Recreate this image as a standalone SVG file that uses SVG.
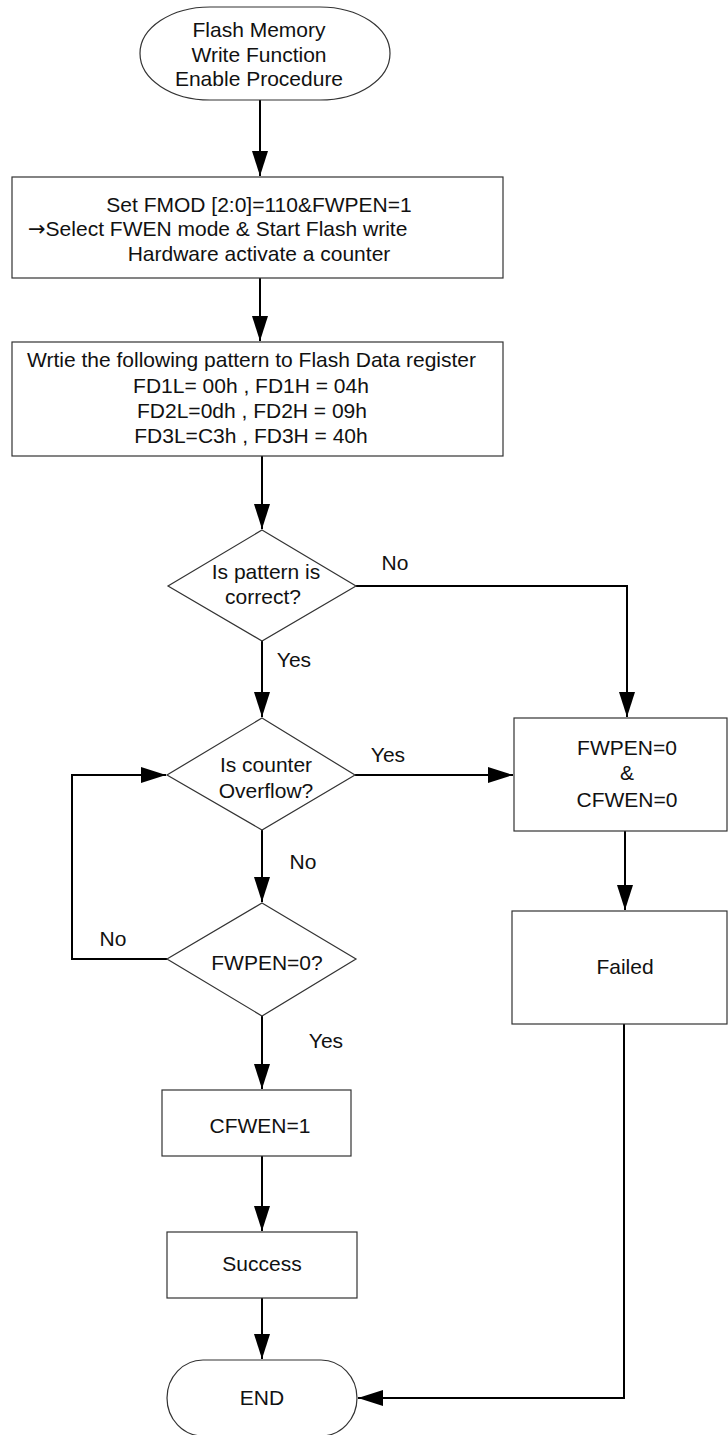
<svg xmlns="http://www.w3.org/2000/svg" width="728" height="1435" viewBox="0 0 728 1435">
<style>
.n{fill:#fff;stroke:#333;stroke-width:1.2}
.t{font-family:"Liberation Sans",Arial,sans-serif;font-size:21px;fill:#111;text-anchor:middle}
.s{text-anchor:start}
.c{fill:none;stroke:#000;stroke-width:2}
.ar{font-family:"DejaVu Sans",sans-serif}
</style>
<defs>
<marker id="ah" markerUnits="userSpaceOnUse" markerWidth="26" markerHeight="18" refX="25" refY="8" orient="auto">
<path d="M0,0 L25,8 L0,16 z" fill="#000"/>
</marker>
</defs>
<rect width="728" height="1435" fill="#fff"/>
<g id="connectors">
<path class="c" d="M260,100 V176" marker-end="url(#ah)"/>
<path class="c" d="M260,278 V341" marker-end="url(#ah)"/>
<path class="c" d="M262,456 V529" marker-end="url(#ah)"/>
<path class="c" d="M356,586 H627 V717" marker-end="url(#ah)"/>
<path class="c" d="M262,641 V717" marker-end="url(#ah)"/>
<path class="c" d="M355,775 H513" marker-end="url(#ah)"/>
<path class="c" d="M262,830 V902" marker-end="url(#ah)"/>
<path class="c" d="M167,959 H72 V775 H166" marker-end="url(#ah)"/>
<path class="c" d="M625,831 V910" marker-end="url(#ah)"/>
<path class="c" d="M262,1016 V1089" marker-end="url(#ah)"/>
<path class="c" d="M262,1156 V1231" marker-end="url(#ah)"/>
<path class="c" d="M262,1298 V1359" marker-end="url(#ah)"/>
<path class="c" d="M624,1024 V1398 H358" marker-end="url(#ah)"/>
<text class="t" x="395" y="570">No</text>
<text class="t" x="294" y="667">Yes</text>
<text class="t" x="388" y="762">Yes</text>
<text class="t" x="303" y="869">No</text>
<text class="t" x="113" y="946">No</text>
<text class="t" x="326" y="1048">Yes</text>
</g>
<g id="start">
<rect class="n" x="140" y="7" width="250" height="93" rx="70" ry="46.5"/>
<text class="t" x="259" y="37">Flash Memory</text>
<text class="t" x="259" y="62">Write Function</text>
<text class="t" x="259" y="86">Enable Procedure</text>
</g>
<g id="setmode">
<rect class="n" x="12" y="177" width="491" height="101"/>
<text class="t" x="259" y="212">Set FMOD [2:0]=110&amp;FWPEN=1</text>
<text class="t s" x="28" y="236"><tspan class="ar">→</tspan>Select FWEN mode &amp; Start Flash write</text>
<text class="t" x="259" y="261">Hardware activate a counter</text>
</g>
<g id="pattern">
<rect class="n" x="12" y="342" width="491" height="114"/>
<text class="t s" x="27" y="367">Wrtie the following pattern to Flash Data register</text>
<text class="t" x="251" y="393" font-size="20">FD1L= 00h , FD1H = 04h</text>
<text class="t" x="252" y="418" font-size="20">FD2L=0dh , FD2H = 09h</text>
<text class="t" x="251" y="443" font-size="20">FD3L=C3h , FD3H = 40h</text>
</g>
<g id="dec1">
<polygon class="n" points="262,530 356,586 262,641 168,586"/>
<text class="t" x="266" y="579">Is pattern is</text>
<text class="t" x="263" y="604">correct?</text>
</g>
<g id="dec2">
<polygon class="n" points="262,718 355,775 262,830 167,775"/>
<text class="t" x="266" y="772">Is counter</text>
<text class="t" x="266" y="798">Overflow?</text>
</g>
<g id="dec3">
<polygon class="n" points="262,903 356,959 262,1016 167,959"/>
<text class="t" x="267" y="970">FWPEN=0?</text>
</g>
<g id="clear">
<rect class="n" x="514" y="718" width="213" height="113"/>
<text class="t" x="627" y="755">FWPEN=0</text>
<text class="t" x="627" y="780">&amp;</text>
<text class="t" x="627" y="807">CFWEN=0</text>
</g>
<g id="failed">
<rect class="n" x="512" y="911" width="215" height="113"/>
<text class="t" x="625" y="974">Failed</text>
</g>
<g id="cfwen">
<rect class="n" x="162" y="1090" width="189" height="66"/>
<text class="t" x="260" y="1133">CFWEN=1</text>
</g>
<g id="success">
<rect class="n" x="167" y="1232" width="190" height="66"/>
<text class="t" x="262" y="1271">Success</text>
</g>
<g id="end">
<rect class="n" x="167" y="1360" width="190" height="76" rx="36" ry="38"/>
<text class="t" x="262" y="1405">END</text>
</g>
</svg>
